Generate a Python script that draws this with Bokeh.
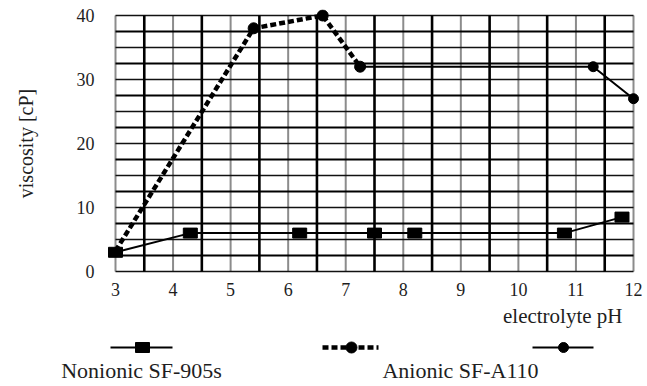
from bokeh.plotting import figure
from bokeh.models import Range1d, FixedTicker
from bokeh.layouts import column
from bokeh.core.properties import value
from bokeh.embed import file_html
from bokeh.resources import INLINE

# ---- data ----
x_ticks = [3, 4, 5, 6, 7, 8, 9, 10, 11, 12]
y_ticks = [0, 10, 20, 30, 40]
x_half = [3.5, 4.5, 5.5, 6.5, 7.5, 8.5, 9.5, 10.5, 11.5]
y_fine_major = [0, 5, 10, 15, 20, 25, 30, 35, 40]
y_fine_odd = [2.5, 7.5, 12.5, 17.5, 22.5, 27.5, 32.5, 37.5]

nonionic_x = [3, 4.3, 6.2, 7.5, 8.2, 10.8, 11.8]
nonionic_y = [3.0, 6.0, 6.0, 6.0, 6.0, 6.0, 8.5]

anionic_dash_x = [3, 5.4, 6.6, 7.25]
anionic_dash_y = [3.2, 38.0, 40.0, 32.0]

anionic_solid_x = [7.25, 11.3, 12.0]
anionic_solid_y = [32.0, 32.0, 27.0]

legend_labels = ["Nonionic SF-905s", "Anionic SF-A110"]
x_title = "electrolyte pH"
y_title = "viscosity [cP]"

FONT = "Liberation Serif"
TXT = "#1e1e1e"

X0, X1 = x_ticks[0], x_ticks[-1]
Y0, Y1 = y_ticks[0], y_ticks[-1]

# pixel layout: grid box spans x 115..633, y 15..271; frame padded so end markers are not clipped
PADX, PADY = 8, 6
xs = (633 - 115) / (X1 - X0)
ys = (271 - 15) / (Y1 - Y0)

p = figure(width=647, height=305,
           x_range=Range1d(X0 - PADX / xs, X1 + PADX / xs),
           y_range=Range1d(Y0 - PADY / ys, Y1 + PADY / ys),
           output_backend="svg", toolbar_location=None,
           min_border_left=115 - PADX, min_border_right=647 - 633 - PADX,
           min_border_top=15 - PADY, min_border_bottom=305 - 271 - PADY)
p.frame_align = False
p.outline_line_color = None
p.xgrid.visible = False
p.ygrid.visible = False

# grid lines limited to the data box
p.segment(x0=x_ticks, y0=[Y0] * len(x_ticks), x1=x_ticks, y1=[Y1] * len(x_ticks),
          line_color="#8c8c8c", line_width=2.0)
p.segment(x0=[X0] * len(y_fine_major), y0=y_fine_major, x1=[X1] * len(y_fine_major), y1=y_fine_major,
          line_color="#111111", line_width=1.6)
p.segment(x0=[X0] * len(y_fine_odd), y0=y_fine_odd, x1=[X1] * len(y_fine_odd), y1=y_fine_odd,
          line_color="#000000", line_width=2.2)
p.segment(x0=x_half, y0=[Y0] * len(x_half), x1=x_half, y1=[Y1] * len(x_half),
          line_color="#000000", line_width=2.6)

for ax in (p.xaxis[0], p.yaxis[0]):
    ax.axis_line_color = None
    ax.major_tick_line_color = None
    ax.minor_tick_line_color = None
    ax.major_tick_out = 0
    ax.major_tick_in = 0
    ax.major_label_text_font = FONT
    ax.major_label_text_font_size = "18px"
    ax.major_label_text_color = TXT

p.xaxis.ticker = FixedTicker(ticks=x_ticks)
p.yaxis.ticker = FixedTicker(ticks=y_ticks)
p.xaxis.major_label_standoff = 5
p.yaxis.major_label_standoff = 13
p.yaxis.axis_label = y_title
p.yaxis.axis_label_text_font = FONT
p.yaxis.axis_label_text_font_style = "normal"
p.yaxis.axis_label_text_font_size = "20px"
p.yaxis.axis_label_text_color = TXT
p.yaxis.axis_label_standoff = 37

# series
p.line(nonionic_x, nonionic_y, line_color="black", line_width=2)
p.rect(nonionic_x, nonionic_y, width=14, height=10, width_units="screen",
       height_units="screen", fill_color="black", line_color="black")

p.line(anionic_dash_x, anionic_dash_y, line_color="black", line_width=4.5, line_dash="6 3")
p.line(anionic_solid_x, anionic_solid_y, line_color="black", line_width=2)
p.scatter(anionic_dash_x[1:], anionic_dash_y[1:], marker="circle", size=11,
          fill_color="black", line_color="black")
p.scatter(anionic_solid_x[1:], anionic_solid_y[1:], marker="circle", size=10,
          fill_color="black", line_color="black")

# ---- bottom panel: x title and legend ----
lf = figure(width=647, height=81, x_range=Range1d(0, 647), y_range=Range1d(81, 0),
            output_backend="svg", toolbar_location=None, min_border=0)
lf.frame_align = False
lf.axis.visible = False
lf.xgrid.visible = False
lf.ygrid.visible = False
lf.outline_line_color = None

lf.text(x=[622], y=[10], text=[x_title], text_align="right", text_baseline="middle",
        text_font=value(FONT), text_font_size="21px", text_color=TXT)

key_y = 42
lf.line([110, 172], [key_y, key_y], line_color="black", line_width=2)
lf.rect([142], [key_y], width=14, height=10, fill_color="black", line_color="black")
lf.line([322, 378], [key_y, key_y], line_color="black", line_width=4.5, line_dash="6 3")
lf.scatter([351], [key_y], marker="circle", size=11, fill_color="black", line_color="black")
lf.line([532, 593], [key_y, key_y], line_color="black", line_width=2)
lf.scatter([563], [key_y], marker="circle", size=10, fill_color="black", line_color="black")

lf.text(x=[141, 460], y=[65, 65], text=legend_labels, text_align="center",
        text_baseline="middle", text_font=value(FONT), text_font_size="22px",
        text_color=TXT)

layout = column(p, lf)
open("out.html", "w").write(file_html(layout, INLINE))
